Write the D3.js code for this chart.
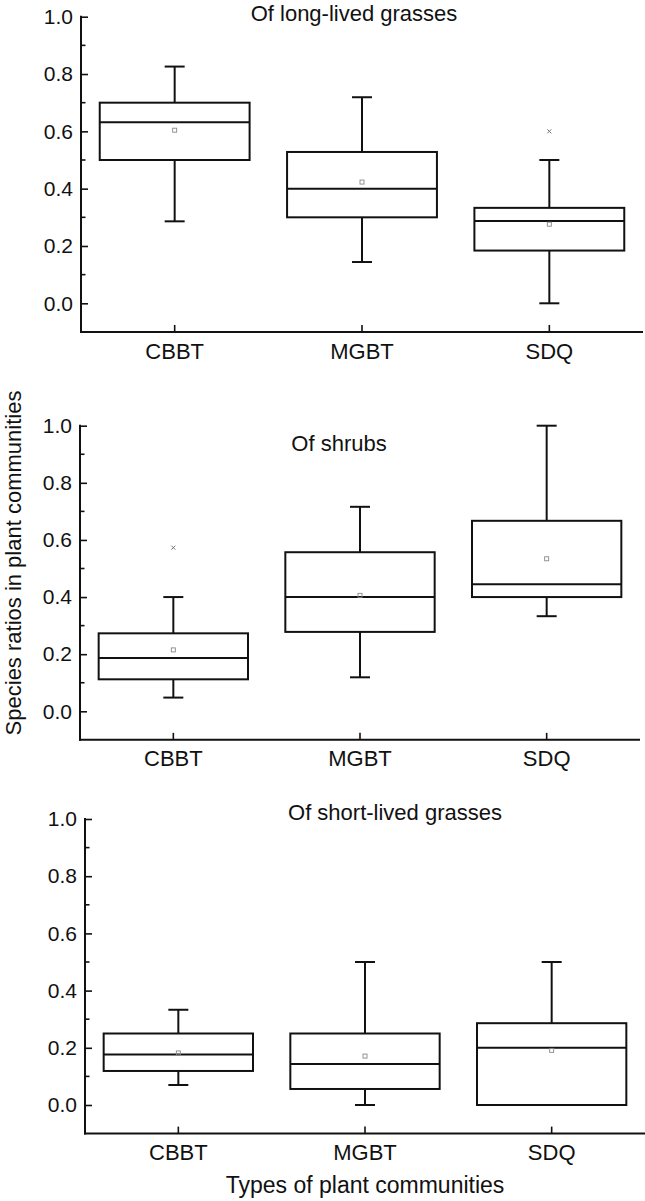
<!DOCTYPE html>
<html>
<head>
<meta charset="utf-8">
<script src="https://cdn.jsdelivr.net/npm/d3@7"></script>
<style>
  html, body { margin: 0; padding: 0; background: #fff; }
  svg { display: block; }
  text { font-family: "Liberation Sans", Arial, Helvetica, sans-serif; fill: #111; }
</style>
</head>
<body>
<svg id="chart" width="645" height="1201"></svg>
<script>
// ---------- data ----------
const categories = ["CBBT", "MGBT", "SDQ"];
const panelTitles = ["Of long-lived grasses", "Of shrubs", "Of short-lived grasses"];
const yTickValues = [0.0, 0.2, 0.4, 0.6, 0.8, 1.0];
const yMinorTickValues = [0.1, 0.3, 0.5, 0.7, 0.9];
const yLabel = "Species ratios in plant communities";
const xLabel = "Types of plant communities";

// box stats per category: [whiskerLow, Q1, median, Q3, whiskerHigh]
const longLivedBox = [
  [0.286, 0.500, 0.632, 0.700, 0.826],
  [0.144, 0.300, 0.400, 0.528, 0.719],
  [0.000, 0.184, 0.287, 0.333, 0.500]
];
const longLivedMean = [0.604, 0.423, 0.276];
const longLivedOutliers = [[], [], [0.600]];

const shrubsBox = [
  [0.048, 0.112, 0.187, 0.273, 0.400],
  [0.119, 0.278, 0.400, 0.557, 0.716],
  [0.333, 0.400, 0.445, 0.667, 1.000]
];
const shrubsMean = [0.215, 0.406, 0.534];
const shrubsOutliers = [[0.573], [], []];

const shortLivedBox = [
  [0.070, 0.119, 0.177, 0.250, 0.333],
  [0.000, 0.056, 0.143, 0.250, 0.500],
  [0.000, 0.000, 0.200, 0.286, 0.500]
];
const shortLivedMean = [0.182, 0.171, 0.191];
const shortLivedOutliers = [[], [], []];

// ---------- layout ----------
const panels = [
  { title: panelTitles[0], box: longLivedBox, mean: longLivedMean, out: longLivedOutliers,
    left: 81, right: 643, yTop: 16.7, yZero: 303.3, titleX: 354, titleY: 20.5 },
  { title: panelTitles[1], box: shrubsBox, mean: shrubsMean, out: shrubsOutliers,
    left: 80, right: 640, yTop: 425.7, yZero: 711.3, titleX: 339, titleY: 451 },
  { title: panelTitles[2], box: shortLivedBox, mean: shortLivedMean, out: shortLivedOutliers,
    left: 85, right: 645, yTop: 819, yZero: 1105, titleX: 395, titleY: 820 }
];

const svg = d3.select("#chart");
const fmt = d3.format(".1f");

panels.forEach(p => {
  const y = d3.scaleLinear().domain([0, 1]).range([p.yZero, p.yTop]);
  const yBottom = y(-0.1);
  const x = d3.scaleBand().domain(categories).range([p.left, p.right]).padding(0);
  const boxW = x.bandwidth() * 0.8;
  const capW = 20;

  const g = svg.append("g");

  // y axis (major ticks inward)
  const yAxis = d3.axisLeft(y).tickValues(yTickValues).tickFormat(fmt)
    .tickSizeInner(-7).tickSizeOuter(0).tickPadding(8);
  const ya = g.append("g").attr("transform", `translate(${p.left},0)`).call(yAxis);
  ya.select(".domain").remove();
  ya.selectAll(".tick line").attr("stroke", "#111").attr("stroke-width", 1.6);
  ya.selectAll(".tick text").attr("font-size", 21).attr("fill", "#111")
    .attr("font-family", "'Liberation Sans', Arial, sans-serif");
  g.append("line").attr("x1", p.left).attr("x2", p.left)
    .attr("y1", y(1.0) - 1).attr("y2", yBottom + 1)
    .attr("stroke", "#111").attr("stroke-width", 2);

  // minor ticks
  g.selectAll(".minor").data(yMinorTickValues).join("line")
    .attr("x1", p.left).attr("x2", p.left + 4.5)
    .attr("y1", d => y(d)).attr("y2", d => y(d))
    .attr("stroke", "#111").attr("stroke-width", 1.6);

  // x axis
  const xAxis = d3.axisBottom(x).tickSizeInner(-7).tickSizeOuter(0).tickPadding(11);
  const xa = g.append("g").attr("transform", `translate(0,${yBottom})`).call(xAxis);
  xa.select(".domain").remove();
  xa.selectAll(".tick line").attr("stroke", "#111").attr("stroke-width", 1.6);
  xa.selectAll(".tick text").attr("font-size", 22).attr("fill", "#111")
    .attr("font-family", "'Liberation Sans', Arial, sans-serif");
  g.append("line").attr("x1", p.left - 1).attr("x2", p.right)
    .attr("y1", yBottom).attr("y2", yBottom)
    .attr("stroke", "#111").attr("stroke-width", 2);

  // title
  g.append("text").attr("x", p.titleX).attr("y", p.titleY)
    .attr("text-anchor", "middle").attr("font-size", 22).text(p.title);

  // boxes
  const items = categories.map((c, i) => ({ c, s: p.box[i], m: p.mean[i], o: p.out[i] }));
  const bg = g.selectAll(".box").data(items).join("g");
  const cxOf = d => x(d.c) + x.bandwidth() / 2;

  bg.append("line") // upper whisker
    .attr("x1", cxOf).attr("x2", cxOf)
    .attr("y1", d => y(d.s[3])).attr("y2", d => y(d.s[4]))
    .attr("stroke", "#111").attr("stroke-width", 2);
  bg.append("line") // lower whisker
    .attr("x1", cxOf).attr("x2", cxOf)
    .attr("y1", d => y(d.s[1])).attr("y2", d => y(d.s[0]))
    .attr("stroke", "#111").attr("stroke-width", 2);
  bg.append("line") // top cap
    .attr("x1", d => cxOf(d) - capW / 2).attr("x2", d => cxOf(d) + capW / 2)
    .attr("y1", d => y(d.s[4])).attr("y2", d => y(d.s[4]))
    .attr("stroke", "#111").attr("stroke-width", 2);
  bg.append("line") // bottom cap
    .attr("x1", d => cxOf(d) - capW / 2).attr("x2", d => cxOf(d) + capW / 2)
    .attr("y1", d => y(d.s[0])).attr("y2", d => y(d.s[0]))
    .attr("stroke", "#111").attr("stroke-width", 2);
  bg.append("rect")
    .attr("x", d => cxOf(d) - boxW / 2)
    .attr("width", boxW)
    .attr("y", d => y(d.s[3]))
    .attr("height", d => y(d.s[1]) - y(d.s[3]))
    .attr("fill", "none").attr("stroke", "#111").attr("stroke-width", 2);
  bg.append("line") // median
    .attr("x1", d => cxOf(d) - boxW / 2).attr("x2", d => cxOf(d) + boxW / 2)
    .attr("y1", d => y(d.s[2])).attr("y2", d => y(d.s[2]))
    .attr("stroke", "#111").attr("stroke-width", 2);
  bg.append("rect") // mean marker
    .attr("x", d => cxOf(d) - 2)
    .attr("y", d => y(d.m) - 2)
    .attr("width", 4).attr("height", 4)
    .attr("fill", "none").attr("stroke", "#888").attr("stroke-width", 0.9);
  // outliers (x marks)
  bg.each(function(d) {
    const cx = cxOf(d);
    d3.select(this).selectAll(".out").data(d.o).join("path")
      .attr("d", v => `M${cx - 2},${y(v) - 2}L${cx + 2},${y(v) + 2}M${cx - 2},${y(v) + 2}L${cx + 2},${y(v) - 2}`)
      .attr("stroke", "#777").attr("stroke-width", 1);
  });
});

// axis titles
svg.append("text")
  .attr("transform", "translate(21,563) rotate(-90)")
  .attr("text-anchor", "middle").attr("font-size", 22).text(yLabel);
svg.append("text")
  .attr("x", 365).attr("y", 1193)
  .attr("text-anchor", "middle").attr("font-size", 23).text(xLabel);
</script>
</body>
</html>
